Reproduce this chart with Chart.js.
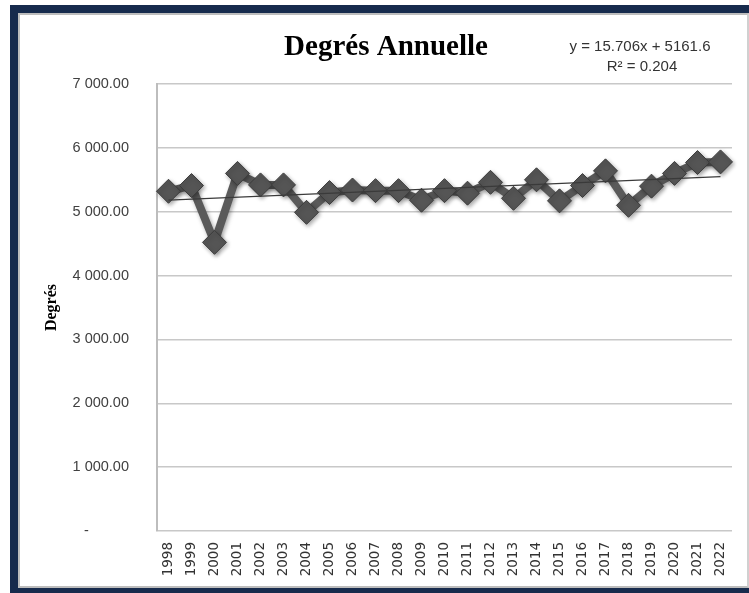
<!DOCTYPE html>
<html>
<head>
<meta charset="utf-8">
<script src="https://cdn.jsdelivr.net/npm/chart.js@4/dist/chart.umd.min.js"></script>
<style>
  html, body { margin: 0; padding: 0; background: #fff; }
  #frame { position: absolute; left: 10px; top: 5px; width: 739px; height: 588px; background: #172b4d; }
  #inner { position: absolute; left: 8px; top: 8px; right: 0; bottom: 5px; background: #fff;
           border-top: 2px solid #bdbdbd; border-left: 2px solid #bdbdbd; border-bottom: 2px solid #bdbdbd; border-right: 2px solid #d0d0d0; }
  #wrap { position: absolute; left: 0; top: 0; width: 749px; height: 593px; }
</style>
</head>
<body>
<div id="frame"><div id="inner"></div></div>
<div id="wrap"><canvas id="chart" width="749" height="593"></canvas></div>
<script>
// categories
const annees = ['1998','1999','2000','2001','2002','2003','2004','2005','2006','2007','2008','2009','2010',
  '2011','2012','2013','2014','2015','2016','2017','2018','2019','2020','2021','2022'];
// degrés annuels
const degres = [5320, 5410, 4520, 5600, 5420, 5420, 4990, 5300, 5340, 5330, 5330, 5180, 5330,
  5290, 5460, 5210, 5500, 5170, 5410, 5640, 5100, 5400, 5600, 5770, 5780];
// courbe de tendance (extrémités)
const tendance = [5180, null, null, null, null, null, null, null, null, null, null, null, null,
  null, null, null, null, null, null, null, null, null, null, null, 5550];
const titre = 'Degrés Annuelle';
const equation = 'y = 15.706x + 5161.6';
const r2 = 'R² = 0.204';
const titreY = 'Degrés';

function formatDeg(v) {
  if (v === 0) return '-' + ' '.repeat(10);
  const s = v.toFixed(2).split('.');
  return s[0].replace(/\B(?=(\d{3})+(?!\d))/g, ' ') + '.' + s[1];
}

const textes = {
  id: 'textes',
  afterDraw(chart) {
    const c = chart.ctx;
    const a = chart.chartArea;
    c.save();
    c.fillStyle = '#000';
    c.textAlign = 'center';
    c.textBaseline = 'middle';
    c.font = 'bold 29px "Liberation Serif"';
    c.fillText(titre, 386, 48);
    c.fillStyle = '#333';
    c.font = '15px "Liberation Sans"';
    c.fillText(equation, 640, 47);
    c.fillText(r2, 642, 67);
    c.translate(52, (a.top + a.bottom) / 2);
    c.rotate(-Math.PI / 2);
    c.fillStyle = '#000';
    c.font = 'bold 16px "Liberation Serif"';
    c.fillText(titreY, 0, 0);
    c.restore();
  }
};

const ombre = {
  id: 'ombre',
  beforeDatasetDraw(chart, args) {
    if (args.index !== 0) return;
    const c = chart.ctx;
    c.save();
    c.shadowColor = 'rgba(0,0,0,0.35)';
    c.shadowBlur = 4;
    c.shadowOffsetX = 1.5;
    c.shadowOffsetY = 2;
  },
  afterDatasetDraw(chart, args) {
    if (args.index !== 0) return;
    chart.ctx.restore();
  }
};

new Chart(document.getElementById('chart'), {
  type: 'line',
  data: {
    labels: annees,
    datasets: [{
      label: 'Degrés',
      data: degres,
      borderColor: '#5a5a5a',
      borderWidth: 8,
      pointStyle: 'rectRot',
      pointRadius: 12,
      pointBackgroundColor: '#555555',
      pointBorderColor: '#3c3c3c',
      pointBorderWidth: 1,
      tension: 0,
      order: 1
    }, {
      label: 'Tendance',
      data: tendance,
      borderColor: '#3a3a3a',
      borderWidth: 1.2,
      pointRadius: 0,
      spanGaps: true,
      order: 0
    }]
  },
  options: {
    responsive: false,
    animation: false,
    events: [],
    layout: { padding: { left: 0, right: 17, top: 84, bottom: 0 } },
    plugins: { legend: { display: false }, tooltip: { enabled: false } },
    scales: {
      x: {
        offset: true,
        grid: { display: false },
        border: { display: false },
        ticks: {
          minRotation: 90, maxRotation: 90, padding: 3,
          color: '#333', font: { family: 'DejaVu Sans', size: 13.5 }
        },
        afterFit(s) { s.height = 62; }
      },
      y: {
        min: 0, max: 7000,
        grid: { color: '#c8c8c8', lineWidth: 1.5, drawTicks: false },
        border: { color: '#bdbdbd', width: 2 },
        ticks: {
          stepSize: 1000, padding: 28,
          color: '#404040', font: { family: 'Liberation Sans', size: 14.5 },
          callback: v => formatDeg(v)
        },
        afterFit(s) { s.width = 157; }
      }
    }
  },
  plugins: [ombre, textes]
});
</script>
</body>
</html>
